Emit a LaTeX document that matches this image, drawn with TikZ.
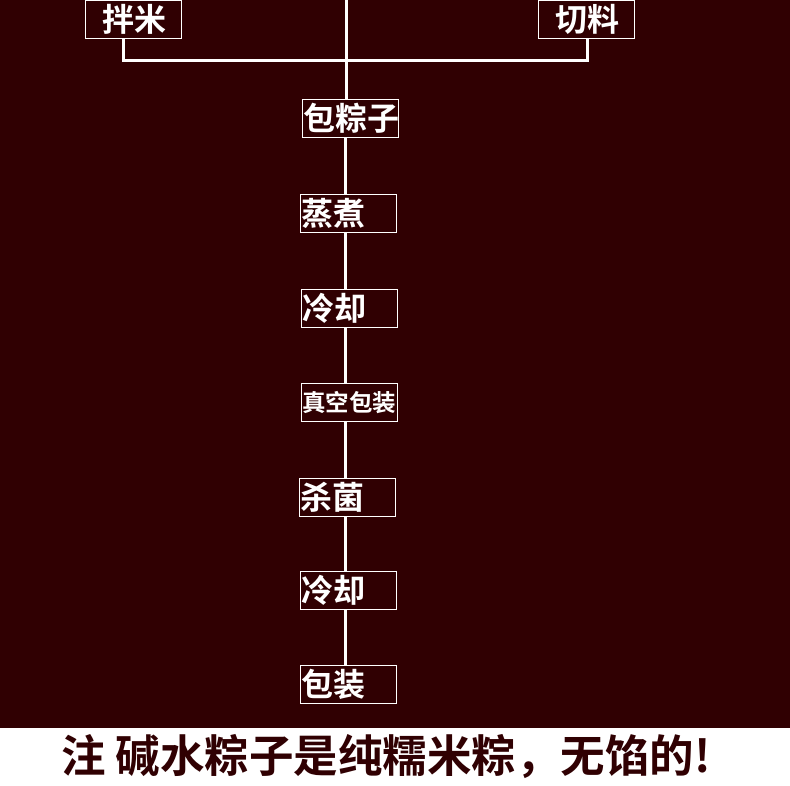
\documentclass[tikz,border=0pt]{standalone}
\usepackage{fontspec}
\newfontfamily\cjk{Noto Sans CJK SC}[BoldFont={Noto Sans CJK SC Bold}]
\definecolor{bgdark}{RGB}{48,0,2}
\begin{document}
\begin{tikzpicture}[x=1pt,y=-1pt,
  stepbox/.style={draw=white,line width=1pt,minimum width=96pt,minimum height=38pt,
    inner sep=0pt,text=white,font=\cjk\bfseries\fontsize{32}{32}\selectfont,
    align=left,text width=94pt,text height=24pt,text depth=0pt},
  smallbox/.style={stepbox,font=\cjk\bfseries\fontsize{23.5}{23.5}\selectfont,text height=18pt},
  topbox/.style={stepbox,text width=82pt},
  link/.style={draw=white,line width=3pt}]
\useasboundingbox (0,0) rectangle (790,785);
\fill[bgdark] (0,0) rectangle (790,728);
\fill[white] (0,728) rectangle (790,785);
% nodes
\node[topbox] (banmi) at (133,19) {\hspace*{10pt}拌米};
\node[topbox] (qieliao) at (586,19.5) {\hspace*{10pt}切料};
\node[stepbox] (bao) at (350,118) {包粽子};
\node[stepbox] (zheng) at (348,213.5) {蒸煮};
\node[stepbox] (leng1) at (349,308) {冷却};
\node[smallbox] (zhen) at (349,402) {真空包装};
\node[stepbox] (sha) at (347,497) {杀菌};
\node[stepbox] (leng2) at (348.5,590) {冷却};
\node[stepbox] (baozhuang) at (348,684) {包装};
\coordinate (top) at (346,0);
\coordinate (junc) at (346,60);
% connectors
\draw[link] (top) -- (junc) -- (bao.north -| junc);
\draw[link] (banmi.south -| 123,0) -- (123,60) -- (587,60) -- (qieliao.south -| 587,0);
\draw[link] (bao.south -| 345,0) -- (zheng.north -| 345,0);
\draw[link] (zheng.south -| 345,0) -- (leng1.north -| 345,0);
\draw[link] (leng1.south -| 345,0) -- (zhen.north -| 345,0);
\draw[link] (zhen.south -| 345,0) -- (sha.north -| 345,0);
\draw[link] (sha.south -| 345,0) -- (leng2.north -| 345,0);
\draw[link] (leng2.south -| 345,0) -- (baozhuang.north -| 345,0);
% note
\node[text=bgdark,font=\cjk\bfseries\fontsize{44.5}{44.5}\selectfont,inner sep=0pt,text height=30pt,text depth=0pt] (note) at (386,757) {注 碱水粽子是纯糯米粽，无馅的!};
\end{tikzpicture}
\end{document}
